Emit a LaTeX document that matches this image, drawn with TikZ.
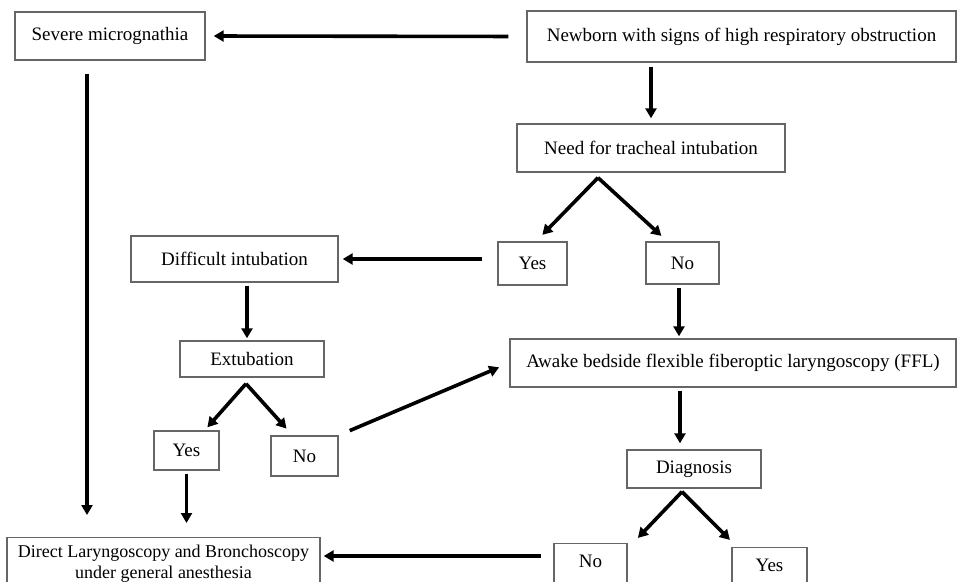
\documentclass[tikz,border=0pt]{standalone}
\usepackage{fontspec}
\setmainfont{Liberation Serif}
\usetikzlibrary{arrows.meta}
\begin{document}
\begin{tikzpicture}[%
x=1pt,y=-1pt,
boks/.style={draw=black!60,line width=1.4pt,inner sep=0pt,font=\fontsize{19}{21}\selectfont},
kutt/.style={boks,anchor=north,inner ysep=11pt,text depth=20pt},
pil/.style={line width=3.6pt,-{Triangle[length=10pt,width=11pt]}}]
\clip (0,0) rectangle (957,581);
\fill [white] (0,0) rectangle (957,581);
\node [boks,minimum width=190pt,minimum height=48pt] (sev)  at (110,36)      {Severe micrognathia};
\node [boks,minimum width=429pt,minimum height=51pt] (newb) at (741.5,36.5)  {Newborn with signs of high respiratory obstruction};
\node [boks,minimum width=268pt,minimum height=48pt] (need) at (651,148)     {Need for tracheal intubation};
\node [boks,minimum width=69pt,minimum height=43pt]  (yes1) at (532.5,263.5) {Yes};
\node [boks,minimum width=73pt,minimum height=42pt]  (no1)  at (682.5,263)   {No};
\node [boks,minimum width=207pt,minimum height=46pt] (diff) at (234.5,259)   {Difficult intubation};
\node [boks,minimum width=144pt,minimum height=36pt] (ext)  at (252,359)     {Extubation};
\node [boks,minimum width=446pt,minimum height=48pt] (ffl)  at (733,363)     {Awake bedside flexible fiberoptic laryngoscopy (FFL)};
\node [boks,minimum width=65pt,minimum height=39pt]  (yes2) at (186.5,450.5) {Yes};
\node [boks,minimum width=67pt,minimum height=40pt]  (no2)  at (304.5,456)   {No};
\node [boks,minimum width=134pt,minimum height=38pt] (diag) at (694,469)     {Diagnosis};
\node [boks,font=\fontsize{18}{21}\selectfont,align=center,anchor=north,minimum width=313pt,minimum height=52pt] (dlb) at (163.5,537)
	{Direct Laryngoscopy and Bronchoscopy\\under general anesthesia};
\node [kutt,minimum width=73pt] (no3)  at (590.5,543) {No};
\node [kutt,minimum width=75pt] (yes3) at (769.5,547) {Yes};
\coordinate (needfork) at ([xshift=-53pt,yshift=-5pt]need.south);
\coordinate (extfork)  at ([xshift=-6pt,yshift=-6pt]ext.south);
\coordinate (diagfork) at ([xshift=-12pt,yshift=-3pt]diag.south);
\draw [pil,shorten <=18pt,shorten >=8pt] (newb.west) -- (sev.east);
\draw [pil,shorten <=4pt,shorten >=5pt]  (need.north |- newb.south) -- (need.north);
\draw [pil,shorten >=9pt]                (needfork) -- (yes1.81);
\draw [pil,shorten >=8pt]                (needfork) -- (no1.125);
\draw [pil,shorten <=15pt,shorten >=4pt] (yes1.west |- diff.east) -- (diff.east);
\draw [pil,shorten <=3pt,shorten >=2pt]  ([xshift=-3.5pt]no1.south) -- ([xshift=-3.5pt]no1.south |- ffl.north);
\draw [pil,shorten <=3pt,shorten >=2pt]  ([xshift=12.5pt]diff.south) -- ([xshift=12.5pt]diff.south |- ext.north);
\draw [pil,shorten >=4pt]                (extfork) -- (yes2.48);
\draw [pil,shorten >=9pt]                (extfork) -- (no2.120);
\draw [pil,shorten <=12pt,shorten >=11pt] (no2.north east) -- (ffl.west);
\draw [pil,shorten <=3pt,shorten >=14pt] (yes2.south) -- (yes2.south |- dlb.north);
\draw [pil,shorten <=13pt,shorten >=22pt] ([xshift=-23pt]sev.south) -- ([xshift=-23pt]sev.south |- dlb.north);
\draw [pil,shorten <=3pt,shorten >=6pt]  ([xshift=-14pt]diag.north |- ffl.south) -- ([xshift=-14pt]diag.north);
\draw [pil,shorten >=7pt]                (diagfork) -- ([xshift=42.5pt]no3.north);
\draw [pil,shorten >=10pt]               (diagfork) -- ([xshift=-32.5pt]yes3.north);
\draw [pil,shorten <=12pt,shorten >=3pt] ([yshift=-13pt]no3.north west) -- ([yshift=-13pt]no3.north west -| dlb.east);
\end{tikzpicture}
\end{document}
